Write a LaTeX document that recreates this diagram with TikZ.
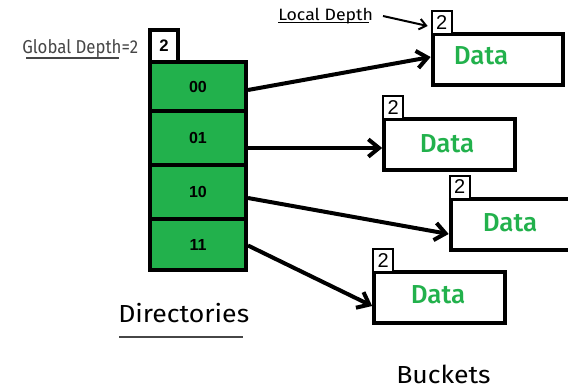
\documentclass[tikz,border=0pt]{standalone}
\usepackage{fontspec}
\setmainfont{Liberation Sans}
\newfontfamily\labelfont[FakeStretch=1.08]{Fira Sans}
\newfontfamily\narrowfont[FakeStretch=0.9]{Fira Sans}
\newfontfamily\mediumfont{Fira Sans Medium}
\usetikzlibrary{arrows.meta,calc}
\definecolor{dirgreen}{RGB}{34,177,76}
\definecolor{softgray}{RGB}{70,70,70}

\tikzset{
  cell/.style={draw, fill=dirgreen, line width=3pt, minimum width=72pt,
    inner sep=0pt, font=\bfseries\fontsize{12}{12}\selectfont},
  gdbox/.style={draw, fill=white, line width=3pt, minimum width=21pt,
    minimum height=24pt, inner sep=0pt, font=\bfseries\fontsize{12.5}{12.5}\selectfont},
  ldbox/.style={draw, fill=white, line width=1.5pt, minimum width=15pt,
    minimum height=17.25pt, inner sep=0pt, outer sep=0pt, anchor=south west,
    font=\fontsize{15}{15}\selectfont},
  bucket/.style={draw, line width=3pt, minimum width=98pt,
    minimum height=38.25pt, inner sep=0pt},
  datatext/.style={anchor=base, text=dirgreen, inner sep=0pt,
    font=\mediumfont\fontsize{19.5}{19.5}\selectfont},
  caption/.style={anchor=base west, inner sep=0pt,
    font=\labelfont\fontsize{18.5}{18.5}\selectfont},
  link/.style={line width=3pt, -{Straight Barb[length=8pt,width=13pt]}},
  thinlink/.style={line width=1.5pt, -{Straight Barb[length=5pt,width=8pt]}},
  rule/.style={softgray, line width=0.8pt},
}

\begin{document}
\begin{tikzpicture}[x=0.75pt, y=-0.75pt]
  \useasboundingbox (0,0) rectangle (568,389);
  \clip (0,0) rectangle (568,389);

  % global depth box sitting on the directory
  \node[gdbox] (gd) at (164,46) {2};

  % directory cells
  \node[cell, minimum height=36.75pt] (d0) at (198,86.5) {00};
  \node[cell, minimum height=40.5pt]  (d1) at (198,138)  {01};
  \node[cell, minimum height=40.5pt]  (d2) at (198,192)  {10};
  \node[cell, minimum height=38.25pt] (d3) at (198,244.5) {11};

  % buckets
  \node[bucket] (b1) at (498,59.5) {};
  \node[bucket] (b2) at (449.5,144.5) {};
  \node[bucket] (b3) at (516,224) {};
  \node[bucket] (b4) at (439.5,297.5) {};

  \node[datatext] (t1) at (481,64)  {Data};
  \node[datatext] (t2) at (447,152) {Data};
  \node[datatext] (t3) at (510,231) {Data};
  \node[datatext] (t4) at (438,303) {Data};

  % local depth boxes
  \node[ldbox] (s1) at ($(b1.north west)+(1,2)$) {2};
  \node[ldbox] (s2) at ($(b2.north west)+(1,2)$) {2};
  \node[ldbox] (s3) at ($(b3.north west)+(1,2)$) {2};
  \node[ldbox] (s4) at ($(b4.north west)+(1,2)$) {2};

  % pointers from directory entries to buckets
  \draw[link] ($(d0.east)+(0,3.5)$) -- ($(b1.west)+(0,-2.5)$);
  \draw[link] ($(d1.east)+(0,10)$)  -- ($(b2.west)+(0,3.5)$);
  \draw[link] ($(d2.east)+(0,6)$)   -- ($(b3.west)+(0,10)$);
  \draw[link] ($(d3.east)+(0,1)$)   -- ($(b4.west)+(0,8.5)$);

  % labels
  \node[caption, text=softgray, font=\narrowfont\fontsize{14}{14}\selectfont]
    (gdl) at (22,53.5) {Global Depth=2};
  \draw[rule] (26,58) -- (119,58);

  \node[caption, font=\labelfont\fontsize{12.3}{12.3}\selectfont]
    (ldl) at (278,20.7) {Local Depth};
  \draw[line width=0.8pt] (278,22.5) -- (369,22.5);
  \coordinate (ldtail) at (383,16);
  \draw[thinlink] (ldtail) -- ($(s1.south west)+(-4,-8)$);

  \node[caption] (dirl) at (118,322) {Directories};
  \draw[rule] (119,337) -- (243,337);

  \node[caption] (bkl) at (396,383) {Buckets};
\end{tikzpicture}
\end{document}
